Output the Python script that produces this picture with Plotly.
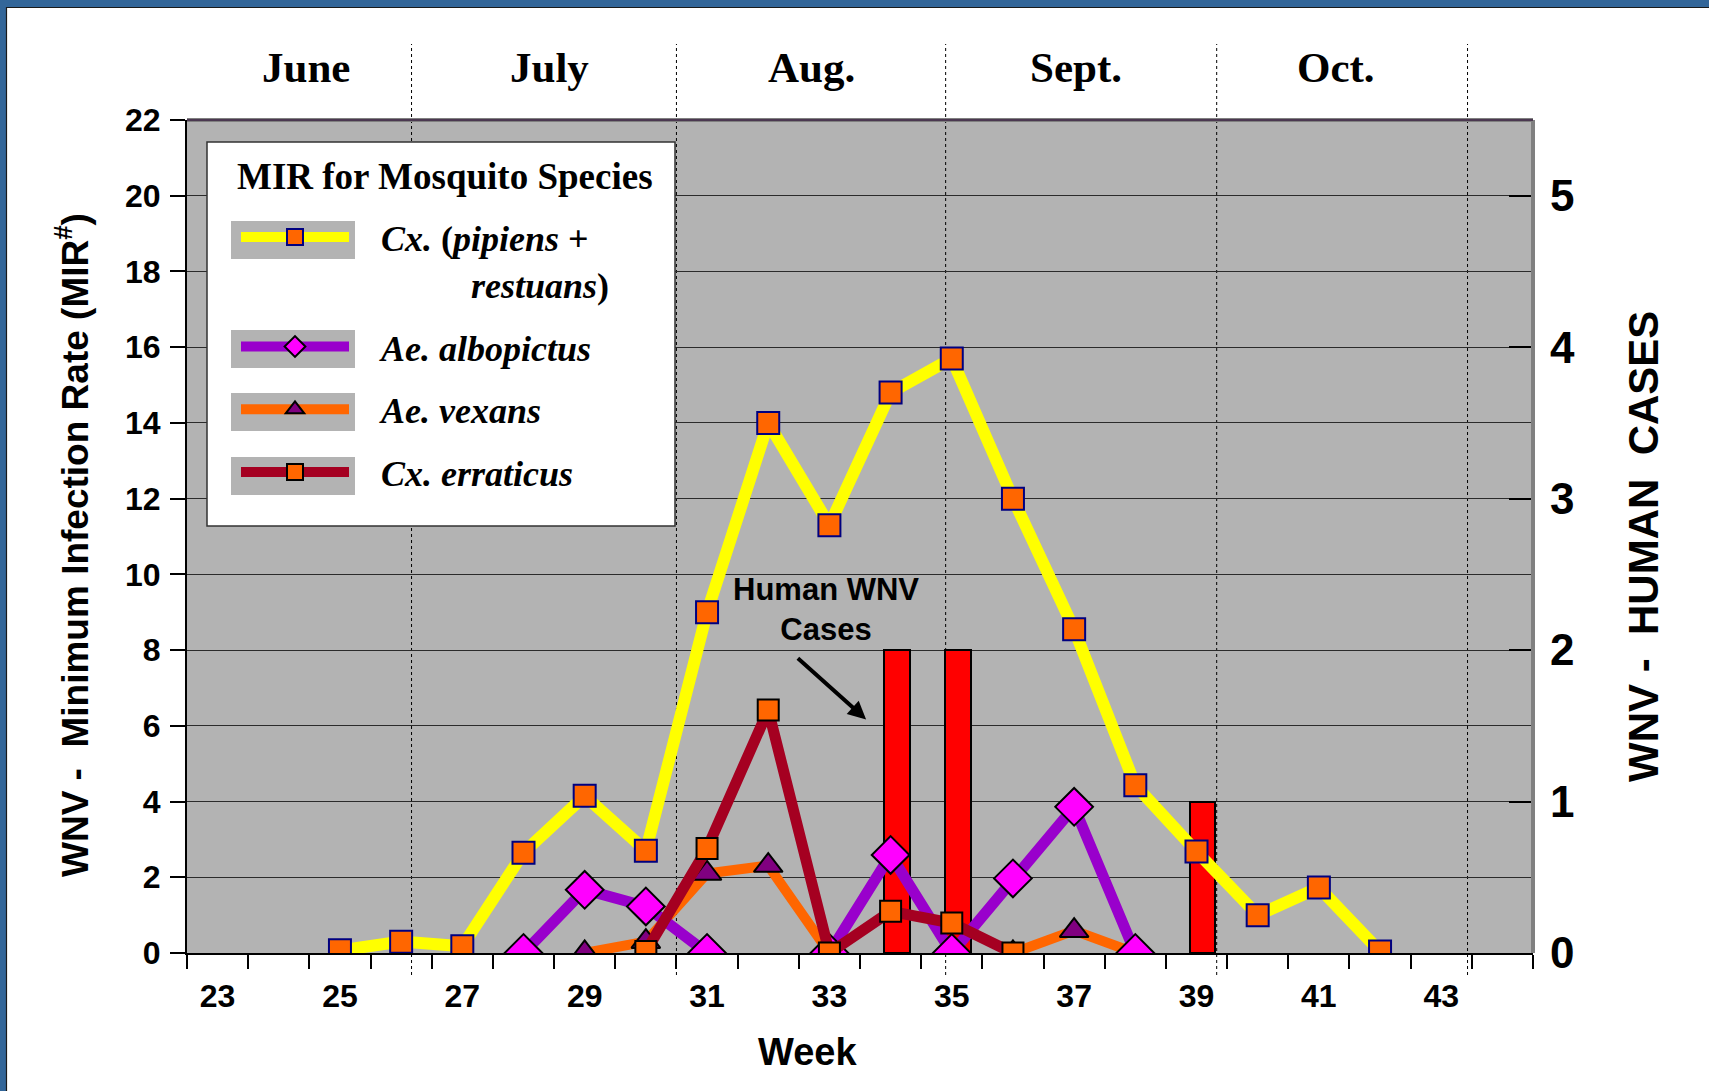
import plotly.graph_objects as go

# ---------------- data ----------------
weeks_pip = [25, 26, 27, 28, 29, 30, 31, 32, 33, 34, 35, 36, 37, 38, 39, 40, 41, 42]
mir_pip = [0.07, 0.3, 0.18, 2.65, 4.15, 2.7, 9.0, 14.0, 11.3, 14.8, 15.7, 12.0, 8.55, 4.43, 2.68, 1.0, 1.73, 0.04]

weeks_alb = [28, 29, 30, 31, 32, 33, 34, 35, 36, 37, 38]
mir_alb = [0.0, 1.67, 1.23, 0.0, None, 0.0, 2.59, 0.0, 1.97, 3.86, 0.0]

weeks_vex = [29, 30, 31, 32, 33, 34, 35, 36, 37, 38]
mir_vex = [0.0, 0.3, 2.1, 2.31, 0.0, None, None, 0.0, 0.59, 0.0]

weeks_err = [30, 31, 32, 33, 34, 35, 36]
mir_err = [0.04, 2.76, 6.42, 0.0, 1.1, 0.79, 0.0]

case_weeks = [34, 35, 39]
human_cases = [2, 2, 1]

week_tick_vals = [23, 25, 27, 29, 31, 33, 35, 37, 39, 41, 43]
mir_tick_vals = [0, 2, 4, 6, 8, 10, 12, 14, 16, 18, 20, 22]
case_tick_vals = [0, 1, 2, 3, 4, 5]

month_names = ["June", "July", "Aug.", "Sept.", "Oct."]
month_label_weeks = [24.45, 28.42, 32.71, 37.03, 41.28]
month_boundaries = [26.17, 30.5, 34.9, 39.33, 43.43]

# ---------------- geometry helpers ----------------
W, H = 1709, 1091
L, R, T, B = 187, 176, 120, 138
PW, PH = W - L - R, H - T - B


def px(x):
    return (x - L) / PW


def py(y):
    return (H - B - y) / PH


SANS = "Liberation Sans, Arial, sans-serif"
SERIF = "Liberation Serif, Times New Roman, serif"
NB = "\u00a0"

fig = go.Figure()

# bars (right axis) - drawn first so lines sit on top
fig.add_trace(go.Bar(
    x=case_weeks, y=human_cases, yaxis="y", name="Human WNV Cases",
    marker=dict(color="#FF0000", line=dict(color="black", width=2)),
    width=0.42, offset=-0.11, showlegend=False,
))

# lines (left axis)
fig.add_trace(go.Scatter(
    x=weeks_vex, y=mir_vex, yaxis="y2", mode="lines+markers",
    name=NB * 3 + "<i>Ae. vexans</i>", legendgroup="c", legendrank=3,
    line=dict(color="#FF6600", width=10),
    marker=dict(symbol="triangle-up", size=25, color="#800080",
                line=dict(color="black", width=2)),
))
fig.add_trace(go.Scatter(
    x=weeks_alb, y=mir_alb, yaxis="y2", mode="lines+markers",
    name=NB * 3 + "<i>Ae. albopictus</i>", legendgroup="b", legendrank=2,
    line=dict(color="#9900CC", width=11),
    marker=dict(symbol="diamond", size=29, color="#FF00FF",
                line=dict(color="black", width=2)),
))
fig.add_trace(go.Scatter(
    x=weeks_err, y=mir_err, yaxis="y2", mode="lines+markers",
    name=NB * 3 + "<i>Cx. erraticus</i>", legendgroup="d", legendrank=4,
    line=dict(color="#A50021", width=11),
    marker=dict(symbol="square", size=21, color="#FF6600",
                line=dict(color="black", width=2)),
))
fig.add_trace(go.Scatter(
    x=weeks_pip, y=mir_pip, yaxis="y2", mode="lines+markers",
    name=NB * 3 + "<i>Cx.</i> (<i>pipiens</i> +<br>" + NB * 13 + "<i>restuans</i>)",
    legendgroup="a", legendrank=1,
    line=dict(color="#FFFF00", width=12),
    marker=dict(symbol="square", size=22, color="#FF6600",
                line=dict(color="#000080", width=2)),
))

shapes = []
# month dividers
for wk in month_boundaries:
    shapes.append(dict(type="line", xref="x", yref="paper", x0=wk, x1=wk,
                       y0=py(975), y1=py(44), layer="below",
                       line=dict(color="black", width=1, dash="dot")))
# plot border (top and right, gray)
shapes.append(dict(type="line", xref="paper", yref="paper", x0=0, x1=1, y0=1, y1=1,
                   line=dict(color="#808080", width=4)))
shapes.append(dict(type="line", xref="paper", yref="paper", x0=1, x1=1, y0=0, y1=1,
                   line=dict(color="#808080", width=4)))
shapes.append(dict(type="line", xref="paper", yref="paper", x0=0, x1=1, y0=1, y1=1,
                   line=dict(color="#3a2040", width=1.5)))
# legend box and sample patches
shapes.append(dict(type="rect", xref="paper", yref="paper", x0=px(207), x1=px(675),
                   y0=py(526), y1=py(142), layer="above",
                   line=dict(color="#333333", width=1.5), fillcolor="white"))
for cy in [240, 349, 412, 476]:
    shapes.append(dict(type="rect", xref="paper", yref="paper", x0=px(231), x1=px(355),
                       y0=py(cy + 19), y1=py(cy - 19), layer="above",
                       line=dict(width=0), fillcolor="#B3B3B3"))
# blue frame
shapes.append(dict(type="rect", xref="paper", yref="paper", x0=px(0), x1=px(W), y0=py(0), y1=py(7),
                   line=dict(width=0), fillcolor="#336699", layer="above"))
shapes.append(dict(type="rect", xref="paper", yref="paper", x0=px(0), x1=px(6), y0=py(H), y1=py(0),
                   line=dict(width=0), fillcolor="#336699", layer="above"))
shapes.append(dict(type="line", xref="paper", yref="paper", x0=px(6), x1=px(W), y0=py(7.5), y1=py(7.5),
                   line=dict(color="#1a1a1a", width=1.2)))
shapes.append(dict(type="line", xref="paper", yref="paper", x0=px(6.5), x1=px(6.5), y0=py(H), y1=py(7),
                   line=dict(color="#1a1a1a", width=1.2)))

annotations = []
for name, wk in zip(month_names, month_label_weeks):
    annotations.append(dict(text=name, x=wk, y=py(67), xref="x", yref="paper",
                            showarrow=False, xanchor="center", yanchor="middle",
                            font=dict(family=SERIF, size=43, color="black", weight="bold")))
annotations.append(dict(text="MIR for Mosquito Species", x=px(445), y=py(176),
                        xref="paper", yref="paper", showarrow=False,
                        xanchor="center", yanchor="middle",
                        font=dict(family=SERIF, size=37, color="black", weight="bold")))
annotations.append(dict(text="WNV -  Minimum Infection Rate (MIR<sup>#</sup>)",
                        x=px(72), y=py(545), xref="paper", yref="paper", textangle=-90,
                        showarrow=False, xanchor="center", yanchor="middle",
                        font=dict(family=SANS, size=37, color="black", weight="bold")))
annotations.append(dict(text="WNV -  HUMAN  CASES",
                        x=px(1643), y=py(547), xref="paper", yref="paper", textangle=-90,
                        showarrow=False, xanchor="center", yanchor="middle",
                        font=dict(family=SANS, size=42, color="black", weight="bold")))
annotations.append(dict(text="Week", x=px(807), y=py(1052), xref="paper", yref="paper",
                        showarrow=False, xanchor="center", yanchor="middle",
                        font=dict(family=SANS, size=38, color="black", weight="bold")))
annotations.append(dict(text="Human WNV<br>Cases", x=32.95, y=9.06, xref="x", yref="y2",
                        showarrow=False, xanchor="center", yanchor="middle", align="center",
                        font=dict(family=SANS, size=31, color="black", weight="bold")))
annotations.append(dict(text="", x=33.6, y=6.17, xref="x", yref="y2",
                        ax=32.46, ay=7.82, axref="x", ayref="y2",
                        showarrow=True, arrowhead=2, arrowsize=0.9, arrowwidth=4,
                        arrowcolor="black", standoff=0))

fig.update_layout(
    width=W, height=H,
    margin=dict(l=L, r=R, t=T, b=B, autoexpand=False),
    paper_bgcolor="white", plot_bgcolor="#B3B3B3",
    font=dict(family=SANS, color="black"),
    bargap=0,
    xaxis=dict(
        range=[22.5, 44.5], tickvals=week_tick_vals, ticks="",
        showgrid=False, zeroline=False,
        showline=True, linecolor="black", linewidth=2,
        tickfont=dict(family=SANS, size=32, color="black", weight="bold"),
        ticklabelstandoff=14,
        minor=dict(tick0=22.5, dtick=1, ticks="outside", ticklen=14,
                   tickcolor="black", tickwidth=1.5, showgrid=False),
    ),
    yaxis=dict(
        side="right", range=[0, 5.5], tickvals=case_tick_vals,
        ticks="inside", ticklen=24, tickcolor="black", tickwidth=2,
        showgrid=False, zeroline=False, showline=False,
        tickfont=dict(family=SANS, size=44, color="black", weight="bold"),
        ticklabelstandoff=16,
    ),
    yaxis2=dict(
        side="left", overlaying="y", range=[0, 22], tickvals=mir_tick_vals,
        ticks="outside", ticklen=15, tickcolor="black", tickwidth=1.5,
        showgrid=True, gridcolor="#2b2b2b", gridwidth=1.2, zeroline=False,
        showline=True, linecolor="black", linewidth=2,
        tickfont=dict(family=SANS, size=32, color="black", weight="bold"),
        ticklabelstandoff=3,
    ),
    legend=dict(
        x=px(236), y=py(207), xanchor="left", yanchor="top",
        bgcolor="rgba(0,0,0,0)", borderwidth=0,
        font=dict(family=SERIF, size=36, color="black", weight="bold"),
        itemwidth=108, traceorder="grouped", tracegroupgap=13,
        itemsizing="trace", valign="top",
    ),
    shapes=shapes,
    annotations=annotations,
)

fig.write_html("out.html", config={"displayModeBar": False},
               post_script="document.body.style.margin='0px';document.body.style.padding='0px';")
